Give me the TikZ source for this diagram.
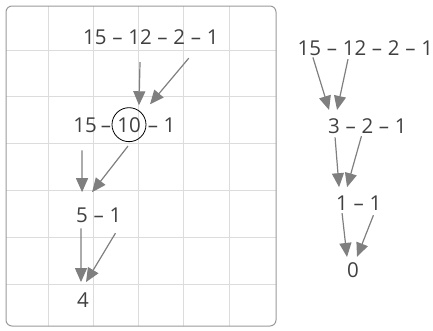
\documentclass[tikz,border=0pt]{standalone}
\usepackage{fontspec}
\setmainfont{Open Sans}
\usetikzlibrary{arrows.meta,positioning}
\definecolor{Ink}{HTML}{404040}
\definecolor{ArrowGray}{HTML}{7F7F80}
\definecolor{GridGray}{HTML}{DCDCDC}
\definecolor{FrameGray}{HTML}{9A9A9A}

\begin{document}
\begin{tikzpicture}[x=1pt,y=-1pt,
    every node/.style={inner sep=0pt,text=Ink,font=\fontsize{20.5}{24}\selectfont},
    arr/.style={-{Triangle[length=14pt,width=12pt]},line width=1.2pt,ArrowGray}]
  \useasboundingbox (0,0) rectangle (433,330);

  % grid panel
  \foreach \x in {48,93.25,138.5,183.75,229} \draw[GridGray,line width=1pt] (\x,6) -- (\x,326);
  \foreach \y in {50,96.8,143.6,190.4,237.2,284} \draw[GridGray,line width=1pt] (6,\y) -- (276,\y);
  \draw[FrameGray,line width=1pt,rounded corners=6pt] (6,6) rectangle (276,326);

  % left: 15 - 12 - 2 - 1
  \node[anchor=base west] (a15) at (83,44) {15};
  \node[base right=5.3pt of a15] (ad1) {–};
  \node[base right=5.3pt of ad1] (a12) {12};
  \node[base right=5.3pt of a12] (ad2) {–};
  \node[base right=5.3pt of ad2] (a2) {2};
  \node[base right=5.3pt of a2] (ad3) {–};
  \node[base right=5.3pt of ad3] (a1) {1};

  \node[anchor=base] (b15) at (85,132) {15};
  \node[anchor=base] (bd1) at (106,132) {–};
  \node[draw=black,line width=0.8pt,circle,minimum size=34pt,anchor=base] (ten) at (129,132) {10};
  \node[anchor=base] (bd2) at (153,132) {–};
  \node[anchor=base] (b1) at (169.5,132) {1};

  \node[anchor=base west] (c5) at (76,222) {5};
  \node[base right=5.3pt of c5] (cd1) {–};
  \node[base right=5.3pt of cd1] (c1) {1};

  \node[anchor=base] (d4) at (83,307) {4};

  \draw[arr] ([yshift=-18pt]a12.south) -- ([xshift=10pt,yshift=2pt]ten.north);
  \draw[arr] ([xshift=9.5pt,yshift=-14pt]a2.south) -- ([xshift=21pt,yshift=3pt]ten.north);
  \draw[arr] ([xshift=-3pt,yshift=-18pt]b15.south) -- ([yshift=15pt]c5.north);
  \draw[arr] ([xshift=-1pt,yshift=-4pt]ten.south) -- ([xshift=10pt,yshift=15pt]c5.north);
  \draw[arr] ([xshift=-1pt,yshift=-6pt]c5.south) -- ([xshift=-2pt,yshift=10pt]d4.north);
  \draw[arr] ([yshift=-11pt]c1.south) -- ([xshift=3pt,yshift=10pt]d4.north);

  % right: 15 - 12 - 2 - 1
  \node[anchor=base west] (e15) at (297.5,55) {15};
  \node[base right=5.3pt of e15] (ed1) {–};
  \node[base right=5.3pt of ed1] (e12) {12};
  \node[base right=5.3pt of e12] (ed2) {–};
  \node[base right=5.3pt of ed2] (e2) {2};
  \node[base right=5.3pt of e2] (ed3) {–};
  \node[base right=5.3pt of ed3] (e1) {1};

  \node[anchor=base west] (f3) at (328,133) {3};
  \node[base right=5.3pt of f3] (fd1) {–};
  \node[base right=5.3pt of fd1] (f2) {2};
  \node[base right=5.3pt of f2] (fd2) {–};
  \node[base right=5.3pt of fd2] (f1) {1};

  \node[anchor=base west] (g1) at (336,210) {1};
  \node[base right=5.3pt of g1] (gd1) {–};
  \node[base right=5.3pt of gd1] (g1b) {1};

  \node[anchor=base] (h0) at (353,277) {0};

  \draw[arr] ([xshift=3.5pt,yshift=-2pt]e15.south) -- ([xshift=-5pt,yshift=8pt]f3.north);
  \draw[arr] ([xshift=-6.5pt,yshift=-4pt]e12.south) -- ([xshift=3pt,yshift=8pt]f3.north);
  \draw[arr] ([xshift=1pt,yshift=-4pt]f3.south) -- ([xshift=-3pt,yshift=8pt]g1.north);
  \draw[arr] ([xshift=-6pt,yshift=-3pt]f2.south) -- ([xshift=5pt,yshift=8pt]g1.north);
  \draw[arr] ([yshift=-3pt]g1.south) -- ([xshift=-6pt,yshift=5pt]h0.north);
  \draw[arr] ([xshift=-2pt,yshift=-5pt]g1b.south) -- ([xshift=4pt,yshift=5pt]h0.north);
\end{tikzpicture}
\end{document}
